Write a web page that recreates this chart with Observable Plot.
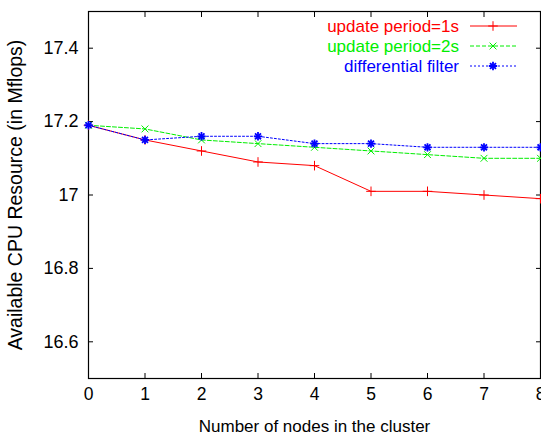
<!DOCTYPE html>
<html>
<head>
<meta charset="utf-8">
<script src="https://cdn.jsdelivr.net/npm/d3@7"></script>
<script src="https://cdn.jsdelivr.net/npm/@observablehq/plot@0.6"></script>
<style>
  html, body { margin: 0; padding: 0; background: #fff; }
  #chart svg { display: block; }
</style>
</head>
<body>
<div id="chart"></div>
<script>
// Number of nodes in the cluster
const nodes = [0, 1, 2, 3, 4, 5, 6, 7, 8];

// Available CPU resource (Mflops) for each update strategy
const period1s = [17.19, 17.15, 17.12, 17.09, 17.08, 17.01, 17.01, 17.00, 16.99];
const period2s = [17.19, 17.18, 17.15, 17.14, 17.13, 17.12, 17.11, 17.10, 17.10];
const diffFilter = [17.19, 17.15, 17.16, 17.16, 17.14, 17.14, 17.13, 17.13, 17.13];

const xTicks = [0, 1, 2, 3, 4, 5, 6, 7, 8];
const yTicks = [16.6, 16.8, 17.0, 17.2, 17.4];

const seriesNames = ["update period=1s", "update period=2s", "differential filter"];
const seriesColors = ["#ff0000", "#00ee00", "#0000ff"];
const seriesDash = [null, "4,2", "2,2"];
const seriesSymbols = [["plus"], ["times"], ["plus", "times"]];

const seriesValues = [period1s, period2s, diffFilter];
const rows = seriesValues.map((vals, i) =>
  nodes.map((n, j) => ({x: n, y: vals[j], s: i}))
);

const font = "Liberation Sans, Arial, Helvetica, sans-serif";

const marks = [];
rows.forEach((data, i) => {
  marks.push(Plot.line(data, {
    x: "x", y: "y",
    stroke: seriesColors[i], strokeWidth: 1,
    strokeDasharray: seriesDash[i]
  }));
  seriesSymbols[i].forEach(sym => {
    marks.push(Plot.dot(data, {
      x: "x", y: "y", symbol: () => sym, r: i === 2 ? 2.8 : 3.2,
      stroke: seriesColors[i], strokeWidth: i === 2 ? 1.8 : 1, fill: "none"
    }));
  });
});

const chart = Plot.plot({
  width: 541,
  height: 441,
  marginLeft: 88,
  marginRight: 1,
  marginTop: 11,
  marginBottom: 63,
  style: {fontFamily: font, fontSize: "17px", color: "#000", background: "#fff"},
  x: {domain: [0, 8]},
  y: {domain: [16.5, 17.5]},
  symbol: {type: "identity"},
  marks: [
    Plot.frame({stroke: "#000", strokeWidth: 1.2}),
    Plot.axisX({ticks: xTicks, tickSize: -5, tickPadding: 14, fontSize: 17.5,
      tickFormat: d => String(d), label: null}),
    Plot.axisX({ticks: [], label: "Number of nodes in the cluster", labelAnchor: "center",
      labelArrow: "none", labelOffset: 53, fontSize: 17}),
    Plot.axisX({anchor: "top", ticks: xTicks, tickSize: -5, tickFormat: () => "", label: null}),
    Plot.axisY({ticks: yTicks, tickSize: -5, tickPadding: 15, fontSize: 18,
      tickFormat: d => d3.format("~g")(d), label: null}),
    Plot.axisY({ticks: [], label: "Available CPU Resource (in Mflops)", labelAnchor: "center",
      labelArrow: "none", labelOffset: 80, fontSize: 19.5}),
    Plot.axisY({anchor: "right", ticks: yTicks, tickSize: -5, tickFormat: () => "", label: null}),
    ...marks
  ]
});

// Legend in the top-right corner of the plot area
const svg = d3.select(chart);
const legend = svg.append("g").attr("font-family", font).attr("font-size", 17);
seriesNames.forEach((name, i) => {
  const y = 26 + i * 20;
  legend.append("text")
    .attr("x", 459).attr("y", y).attr("dy", "0.35em")
    .attr("text-anchor", "end").attr("fill", seriesColors[i])
    .text(name);
  legend.append("line")
    .attr("x1", 470).attr("x2", 517).attr("y1", y).attr("y2", y)
    .attr("stroke", seriesColors[i]).attr("stroke-width", 1)
    .attr("stroke-dasharray", seriesDash[i]);
  seriesSymbols[i].forEach(sym => {
    legend.append("path")
      .attr("transform", `translate(493,${y})`)
      .attr("d", d3.symbol(sym === "plus" ? d3.symbolPlus : d3.symbolTimes, i === 2 ? 25 : 32)())
      .attr("fill", "none").attr("stroke", seriesColors[i])
      .attr("stroke-width", i === 2 ? 1.8 : 1);
  });
});

document.getElementById("chart").appendChild(chart);
</script>
</body>
</html>
